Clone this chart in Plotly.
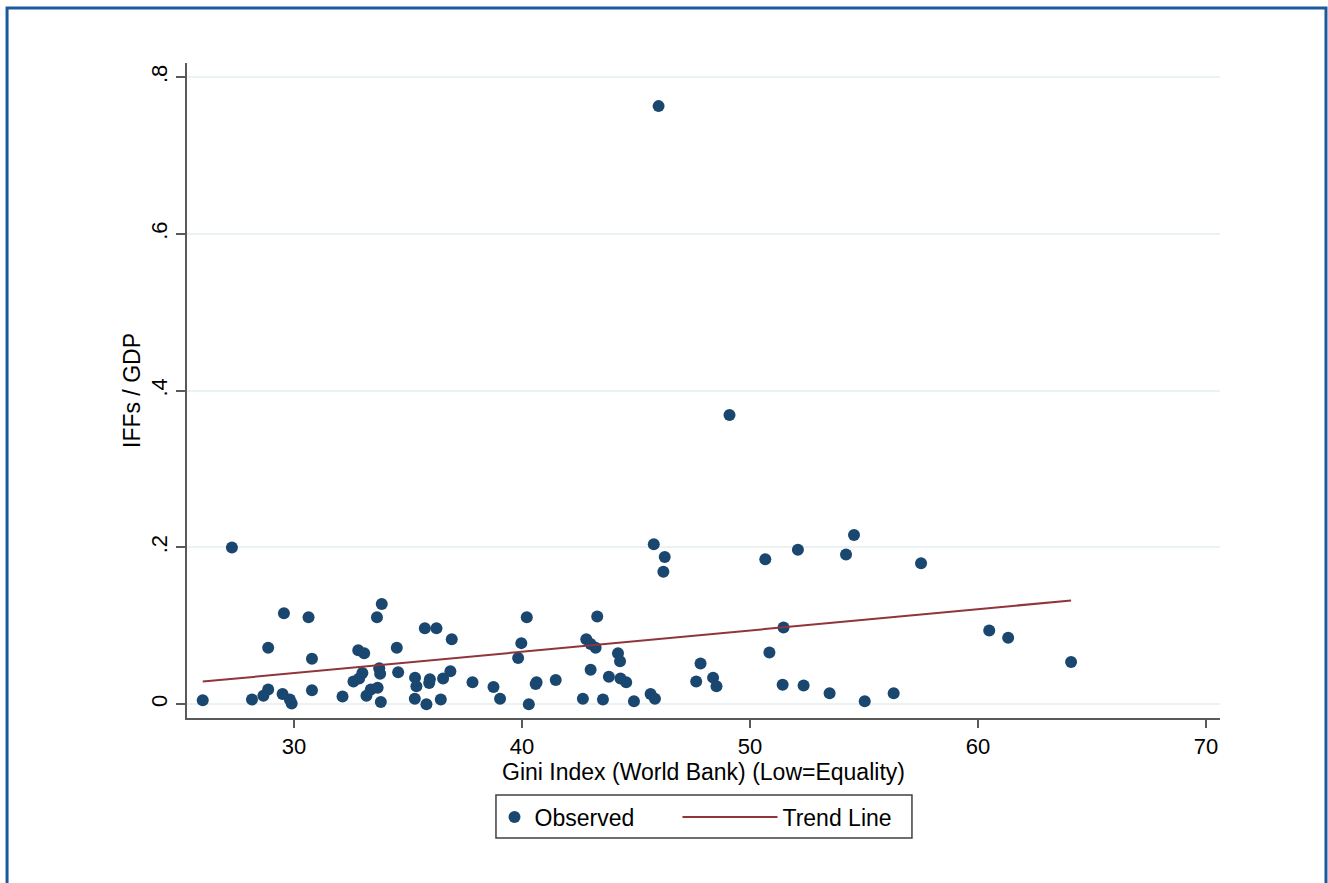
import plotly.graph_objects as go

# Observed points: Gini index (x) vs IFFs / GDP (y)
gini = [26.0, 27.28, 28.16, 28.66, 28.87, 28.87, 29.56, 29.5, 29.82, 29.9,
        30.64, 30.79, 30.79, 32.13, 32.61, 32.86, 33.0, 32.82, 33.08, 33.64,
        33.85, 33.18, 33.37, 33.67, 33.74, 33.78, 33.81,
        34.51, 34.57, 35.74, 36.25, 36.92, 35.31, 35.37, 35.96, 35.93, 36.54,
        36.86, 35.30, 35.81, 36.44, 37.83, 38.75, 39.04, 40.21, 39.97, 39.83,
        40.30, 40.64, 40.60, 41.48,
        43.30, 42.82, 43.01, 43.23, 44.21, 44.30, 43.01, 43.81, 44.32, 44.57,
        42.67, 43.55, 44.91, 45.64, 45.83, 47.83, 47.64, 48.38, 48.53,
        45.99, 49.10, 45.78, 46.26, 46.20, 50.67, 52.10, 54.56, 54.21, 57.50,
        60.49, 61.32, 64.08,
        51.47, 50.85, 51.43, 52.35, 53.49, 55.03, 56.30]
iffs_gdp = [0.005, 0.200, 0.006, 0.011, 0.019, 0.072, 0.116, 0.013, 0.006, 0.001,
            0.111, 0.058, 0.018, 0.010, 0.029, 0.033, 0.040, 0.069, 0.065, 0.111,
            0.128, 0.011, 0.019, 0.021, 0.046, 0.039, 0.003,
            0.072, 0.041, 0.097, 0.097, 0.083, 0.034, 0.023, 0.032, 0.027, 0.033,
            0.042, 0.007, 0.000, 0.006, 0.028, 0.022, 0.007, 0.111, 0.078, 0.059,
            0.000, 0.028, 0.026, 0.031,
            0.112, 0.083, 0.077, 0.072, 0.065, 0.055, 0.044, 0.035, 0.033, 0.028,
            0.007, 0.006, 0.004, 0.013, 0.007, 0.052, 0.029, 0.034, 0.023,
            0.763, 0.369, 0.204, 0.188, 0.169, 0.185, 0.197, 0.216, 0.191, 0.180,
            0.094, 0.085, 0.054,
            0.098, 0.066, 0.025, 0.024, 0.014, 0.004, 0.014]

# Trend line endpoints
trend_x = [26.0, 64.08]
trend_y = [0.0289, 0.1324]

x_ticks = [30, 40, 50, 60, 70]
y_ticks = [0, 0.2, 0.4, 0.6, 0.8]
y_tick_labels = ["0", ".2", ".4", ".6", ".8"]

FONT = "Liberation Sans, Arial, sans-serif"
NAVY = "#1a476f"
MAROON = "#90353b"

fig = go.Figure()
fig.add_trace(go.Scatter(
    x=gini, y=iffs_gdp, mode="markers", name="Observed",
    marker=dict(color=NAVY, size=12, line=dict(width=0)),
    legend="legend",
))
fig.add_trace(go.Scatter(
    x=trend_x, y=trend_y, mode="lines", name="Trend Line",
    line=dict(color=MAROON, width=2),
    legend="legend2",
))

legend_common = dict(
    orientation="h", yanchor="middle", y=-0.1511, xanchor="left",
    borderwidth=0, bgcolor="rgba(0,0,0,0)",
    font=dict(family=FONT, size=23, color="black"),
)

fig.update_layout(
    width=1328, height=883,
    margin=dict(l=187, r=108, t=63, b=165),
    paper_bgcolor="white", plot_bgcolor="white",
    font=dict(family=FONT, size=22, color="black"),
    showlegend=True,
    legend=dict(x=0.2977, itemwidth=30, **legend_common),
    legend2=dict(x=0.4748, itemwidth=95, **legend_common),
    xaxis=dict(
        range=[25.31, 70.61], tickvals=x_ticks, ticktext=[str(v) for v in x_ticks],
        showgrid=False, zeroline=False,
        showline=True, linecolor="#5a5a5a", linewidth=2,
        ticks="outside", ticklen=8, tickwidth=2, tickcolor="#5a5a5a",
        tickfont=dict(size=22),
        title=dict(text="Gini Index (World Bank) (Low=Equality)", font=dict(size=23), standoff=4),
    ),
    yaxis=dict(
        range=[-0.0175, 0.818], tickvals=y_ticks, ticktext=y_tick_labels,
        tickangle=-90,
        showgrid=True, gridcolor="#eaf2f3", gridwidth=1.5,
        zeroline=True, zerolinecolor="#eaf2f3", zerolinewidth=1.5,
        showline=True, linecolor="#5a5a5a", linewidth=2,
        ticks="outside", ticklen=9, tickwidth=2, tickcolor="#5a5a5a",
        tickfont=dict(size=22),
        title=dict(text="IFFs / GDP", font=dict(size=23), standoff=0),
    ),
    shapes=[
        dict(type="rect", xref="paper", yref="paper",
             x0=-0.1742, x1=1.1026, y0=-0.28, y1=1.084,
             line=dict(color="#1c5aa0", width=3), fillcolor="rgba(0,0,0,0)",
             layer="below"),
        dict(type="rect", xref="paper", yref="paper",
             x0=0.2991, x1=0.7018, y0=-0.1832, y1=-0.1176,
             line=dict(color="#404040", width=1.5), fillcolor="rgba(0,0,0,0)",
             layer="above"),
    ],
)

fig.write_html("out.html", config={"displayModeBar": False},
               post_script="document.body.style.margin='0px';")
